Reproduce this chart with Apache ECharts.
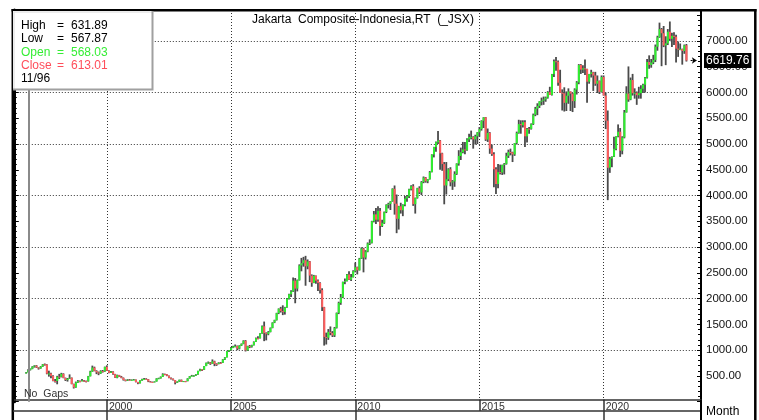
<!DOCTYPE html>
<html>
<head>
<meta charset="utf-8">
<title>Jakarta Composite-Indonesia,RT (_JSX)</title>
<script src="https://cdn.jsdelivr.net/npm/echarts@6/dist/echarts.min.js"></script>
<style>
  html, body { margin: 0; padding: 0; background: #fff; }
  #chart { width: 759px; height: 420px; }
</style>
</head>
<body>
<div id="chart"></div>
<script>
// monthly bars, the first one is 1996-10, the last one 2023-05
var firstYear = 1996, firstMonth = 10;

var opens = [
  552, 568.03, 613,
  637, 680, 700, 663, 645, 681, 725, 721, 545, 547, 500, 402,
  402, 486, 482, 541, 460, 420, 446, 466, 343, 276, 373, 400,
  398, 412, 400, 394, 495, 585, 662, 598, 569, 548, 594, 587,
  677, 600, 561, 583, 535, 465, 515, 485, 461, 421, 408, 428,
  416, 426, 429, 381, 358, 410, 438, 444, 436, 393, 383, 380,
  392, 452, 453, 482, 534, 531, 505, 464, 444, 419, 369, 390,
  425, 388, 399, 398, 451, 495, 506, 508, 530, 598, 626, 617,
  692, 753, 761, 736, 783, 733, 732, 757, 755, 820, 861, 978,
  1000, 1045, 1074, 1080, 1030, 1088, 1122, 1182, 995, 1079, 1066, 1097,
  1163, 1232, 1231, 1323, 1464, 1330, 1310, 1352, 1431, 1535, 1583, 1719,
  1806, 1757, 1741, 1831, 1999, 2084, 2139, 2349, 2194, 2359, 2644, 2688,
  2746, 2627, 2722, 2447, 2305, 2444, 2349, 2305, 2166, 1833, 1257, 1242,
  1355, 1333, 1286, 1434, 1723, 1917, 2027, 2323, 2342, 2468, 2368, 2416,
  2534, 2611, 2549, 2777, 2971, 2797, 2914, 3069, 3082, 3501, 3635, 3531,
  3704, 3409, 3470, 3679, 3820, 3837, 3889, 4131, 3842, 3549, 3791, 3715,
  3822, 3942, 3985, 4122, 4181, 3833, 3956, 4142, 4060, 4263, 4350, 4276,
  4317, 4454, 4796, 4941, 5034, 5069, 4819, 4610, 4195, 4316, 4511, 4256,
  4274, 4419, 4620, 4768, 4840, 4894, 4879, 5089, 5137, 5138, 5090, 5150,
  5227, 5289, 5450, 5519, 5086, 5216, 4911, 4803, 4510, 4224, 4455, 4447,
  4593, 4615, 4771, 4845, 4839, 4797, 5017, 5216, 5386, 5365, 5423, 5149,
  5297, 5294, 5387, 5568, 5685, 5738, 5830, 5841, 5864, 5901, 6006, 5952,
  6356, 6606, 6597, 6189, 5995, 5984, 5799, 5936, 6019, 5977, 5832, 6056,
  6195, 6533, 6443, 6469, 6455, 6209, 6359, 6391, 6329, 6169, 6228, 6012,
  6300, 5940, 5453, 4539, 4716, 4754, 4905, 5150, 5239, 4870, 5128, 5612,
  5979, 5862, 6242, 5986, 5996, 5947, 5986, 6070, 6150, 6287, 6591, 6534,
  6581, 6631, 6888, 7071, 7229, 7149, 6912, 6951, 7179, 7041, 7099, 7081,
  6851, 6839, 6843, 6805, 6916
];
var highs = [
  575, 631.89, 645,
  688, 707, 710, 668, 690, 730, 741, 728, 602, 560, 512, 440,
  502, 540, 560, 551, 468, 460, 530, 470, 350, 390, 420, 410,
  440, 420, 410, 500, 600, 700, 680, 610, 585, 610, 615, 680,
  705, 612, 597, 590, 540, 525, 520, 500, 470, 430, 437, 440,
  432, 440, 431, 385, 416, 446, 460, 455, 440, 402, 390, 395,
  455, 465, 490, 551, 545, 535, 510, 468, 448, 420, 395, 428,
  430, 402, 403, 455, 498, 520, 515, 535, 600, 640, 630, 692,
  760, 780, 770, 820, 795, 745, 765, 770, 825, 865, 980, 1005,
  1060, 1085, 1110, 1090, 1095, 1130, 1192, 1195, 1085, 1100, 1105, 1170,
  1245, 1270, 1330, 1480, 1555, 1345, 1370, 1440, 1540, 1590, 1725, 1810,
  1840, 1870, 1840, 2010, 2095, 2160, 2410, 2400, 2370, 2665, 2790, 2810,
  2830, 2760, 2730, 2470, 2460, 2450, 2370, 2320, 2200, 1840, 1340, 1410,
  1460, 1370, 1450, 1730, 1940, 2090, 2330, 2390, 2480, 2530, 2480, 2550,
  2700, 2620, 2790, 2995, 2985, 2940, 3090, 3150, 3510, 3700, 3760, 3790,
  3760, 3530, 3690, 3830, 3860, 3890, 4140, 4195, 4020, 3800, 3860, 3830,
  3990, 4010, 4130, 4200, 4220, 3960, 4150, 4180, 4280, 4370, 4360, 4320,
  4475, 4800, 4945, 5050, 5250, 5080, 4830, 4650, 4650, 4530, 4550, 4300,
  4470, 4625, 4880, 4930, 5040, 5040, 5110, 5200, 5260, 5150, 5180, 5230,
  5330, 5460, 5520, 5524, 5300, 5230, 4990, 4840, 4550, 4610, 4600, 4600,
  4630, 4830, 4890, 4910, 4850, 5020, 5240, 5470, 5460, 5460, 5460, 5310,
  5330, 5400, 5590, 5720, 5790, 5830, 5900, 5920, 5920, 6025, 6110, 6360,
  6640, 6690, 6620, 6440, 6060, 6100, 6020, 6080, 6020, 5990, 6080, 6220,
  6550, 6550, 6530, 6640, 6460, 6360, 6440, 6400, 6400, 6330, 6230, 6330,
  6330, 6000, 5650, 4750, 4760, 5140, 5150, 5380, 5310, 5150, 5660, 6120,
  6505, 6290, 6360, 6080, 6020, 6110, 6140, 6170, 6300, 6650, 6720, 6650,
  6730, 6930, 7100, 7355, 7250, 7290, 7090, 7230, 7377, 7160, 7170, 7120,
  6990, 6950, 6850, 6930, 6940
];
var lows = [
  545, 567.87, 606,
  630, 662, 655, 623, 640, 676, 700, 532, 486, 455, 395, 372,
  338, 440, 472, 455, 402, 390, 440, 338, 256, 270, 365, 378,
  395, 385, 375, 390, 490, 580, 590, 535, 515, 540, 565, 580,
  595, 550, 555, 525, 460, 455, 480, 455, 410, 395, 402, 410,
  408, 418, 375, 340, 355, 405, 428, 428, 380, 375, 370, 375,
  390, 440, 448, 480, 515, 495, 455, 430, 410, 337, 365, 385,
  385, 382, 380, 396, 448, 490, 485, 500, 525, 590, 595, 615,
  690, 735, 715, 735, 690, 695, 725, 735, 750, 810, 858, 965,
  990, 1040, 1055, 1000, 1015, 1080, 1115, 975, 985, 1040, 1050, 1090,
  1160, 1210, 1225, 1320, 1175, 1190, 1290, 1345, 1425, 1525, 1575, 1700,
  1730, 1680, 1690, 1825, 1985, 2030, 2130, 1910, 2140, 2350, 2530, 2620,
  2250, 2570, 2320, 2230, 2300, 2290, 2150, 2100, 1760, 1089, 1110, 1200,
  1290, 1255, 1256, 1420, 1700, 1880, 2010, 2280, 2330, 2360, 2340, 2410,
  2510, 2470, 2545, 2770, 2510, 2760, 2900, 3040, 3070, 3480, 3450, 3490,
  3220, 3390, 3450, 3660, 3750, 3720, 3880, 3630, 3270, 3340, 3650, 3600,
  3790, 3880, 3950, 4100, 3800, 3650, 3940, 4030, 4010, 4240, 4250, 4240,
  4310, 4450, 4740, 4850, 5000, 4500, 4480, 3830, 4020, 4280, 4180, 4110,
  4170, 4400, 4580, 4690, 4820, 4800, 4870, 5040, 5090, 4910, 4990, 5000,
  5140, 5260, 5310, 5060, 5040, 4810, 4770, 4160, 4030, 4140, 4410, 4400,
  4410, 4600, 4730, 4780, 4650, 4770, 4990, 5200, 5200, 5320, 4940, 5030,
  5200, 5280, 5370, 5540, 5560, 5700, 5750, 5760, 5820, 5880, 5950, 5940,
  6300, 6420, 6130, 5990, 5650, 5630, 5640, 5780, 5640, 5620, 5700, 5960,
  6160, 6360, 6380, 6340, 5800, 6170, 6290, 6030, 6130, 5990, 5970, 6000,
  5940, 5290, 3911, 4440, 4550, 4750, 4880, 5130, 4750, 4800, 5110, 5610,
  5820, 5850, 5940, 5880, 5760, 5880, 5880, 5990, 6000, 6270, 6460, 6480,
  6550, 6590, 6810, 7060, 6510, 6880, 6530, 6920, 7000, 6880, 6920, 6580,
  6690, 6820, 6540, 6750, 6600
];
var closes = [
  568.03, 613.01, 637.4,
  680, 700.2, 662.6, 645, 680.9, 724.6, 721.3, 545.3, 546.7, 500.4, 401.7, 401.7,
  485.9, 482.4, 541.4, 460.4, 420, 445.9, 465.7, 342.9, 276.2, 373.1, 399.7, 398,
  411.9, 400, 393.6, 495.2, 585.4, 662, 597.9, 569, 547.9, 593.9, 587.1, 676.9,
  600.3, 561.3, 583.3, 535.2, 465.4, 515.1, 484.9, 461.2, 421.3, 408.1, 427.9, 416.3,
  426.1, 428.9, 381.1, 358.2, 410, 437.6, 444.1, 435.5, 392.5, 383.1, 380.4, 392,
  451.6, 453.2, 481.8, 534.1, 530.8, 505, 463.7, 443.7, 419.3, 369.4, 390.4, 424.9,
  388.4, 399.2, 398, 450.9, 494.8, 505.5, 507.9, 529.7, 597.7, 625.5, 617.1, 691.9,
  752.9, 761.1, 735.7, 783.4, 732.5, 732.4, 756.9, 754.7, 820.1, 860.5, 977.8, 1000.2,
  1045.4, 1073.8, 1080.2, 1029.6, 1088.2, 1122.4, 1182.3, 994.8, 1079.3, 1066.2, 1096.6, 1162.6,
  1232.3, 1230.7, 1322.9, 1464.4, 1330, 1310.3, 1351.7, 1431.3, 1534.6, 1582.6, 1718.9, 1805.5,
  1757.3, 1740.9, 1830.9, 1999.2, 2084.3, 2139.3, 2348.7, 2194.3, 2359.2, 2643.5, 2688.3, 2745.8,
  2627.3, 2721.9, 2447.3, 2304.5, 2444.4, 2349.1, 2304.5, 2165.9, 1832.5, 1256.7, 1241.5, 1355.4,
  1332.7, 1285.5, 1434.1, 1722.8, 1916.8, 2026.8, 2323.2, 2341.5, 2467.6, 2367.7, 2415.8, 2534.4,
  2610.8, 2549, 2777.3, 2971.3, 2796.9, 2913.7, 3069.3, 3081.9, 3501.3, 3635.3, 3531.2, 3703.5,
  3409.2, 3470.4, 3678.7, 3819.6, 3836.9, 3888.6, 4130.8, 3841.7, 3549, 3790.8, 3715.1, 3822,
  3941.7, 3985.2, 4121.6, 4180.7, 3832.8, 3955.6, 4142.3, 4060.3, 4262.6, 4350.3, 4276.1, 4316.7,
  4453.7, 4795.8, 4941, 5034.1, 5068.6, 4818.9, 4610.4, 4195.1, 4316.2, 4510.6, 4256.4, 4274.2,
  4418.8, 4620.2, 4768.3, 4840.1, 4893.9, 4878.6, 5088.8, 5136.9, 5137.6, 5089.5, 5149.9, 5227,
  5289.4, 5450.3, 5518.7, 5086.4, 5216.4, 4910.7, 4802.5, 4509.6, 4223.9, 4455.2, 4446.5, 4593,
  4615.2, 4771, 4845.4, 4838.6, 4796.9, 5016.6, 5216, 5386.1, 5364.8, 5422.5, 5148.9, 5296.7,
  5294.1, 5386.7, 5568.1, 5685.3, 5738.2, 5829.7, 5840.9, 5864.1, 5900.9, 6005.8, 5952.1, 6355.7,
  6605.6, 6597.2, 6189, 5994.6, 5983.6, 5799.2, 5936.4, 6018.5, 5976.6, 5831.7, 6056.1, 6194.5,
  6533, 6443.3, 6468.8, 6455.4, 6209.1, 6358.6, 6390.5, 6328.5, 6169.1, 6228.3, 6011.8, 6300,
  5940, 5452.7, 4538.9, 4716.4, 4753.6, 4905.4, 5149.6, 5238.5, 4870, 5128.2, 5612.4, 5979.1,
  5862.4, 6241.8, 5985.5, 5995.6, 5947.5, 5985.5, 6070, 6150.3, 6286.9, 6591.3, 6533.9, 6581.5,
  6631.2, 6888.2, 7071.4, 7228.9, 7149, 6911.6, 6951.1, 7178.6, 7040.8, 7098.9, 7081.3, 6850.6,
  6839.3, 6843.2, 6805.3, 6915.7, 6619.76
];

var padBefore = 6, padAfter = 7;   // empty months either side of the bars
var cursorBar = 1;                 // 11/96, shown in the box
var yMax = 7600, yLabelTop = 7000;

var font = 'Liberation Sans, Arial, sans-serif';
var upColor = '#2ef02e', downColor = '#ff5c5c', wickColor = '#4a4a4a';

var months = [];
for (var i = -padBefore; i < closes.length + padAfter; i++) {
    var t = firstYear * 12 + firstMonth - 1 + i;
    months.push(Math.floor(t / 12) + '-' + String(t % 12 + 1).padStart(2, '0'));
}

var bars = closes.map(function (c, i) {
    return [i + padBefore, opens[i], c, lows[i], highs[i]];
});

function everyFive(idx, val) {
    return val.slice(5) === '01' && (+val.slice(0, 4)) % 5 === 0;
}
function everyTen(idx, val) {
    return val.slice(5) === '01' && (+val.slice(0, 4)) % 10 === 0;
}

var last = closes.length - 1;
var lastClose = closes[last];
var cm = months[cursorBar + padBefore];

var chart = echarts.init(document.getElementById('chart'));

var rows = [
    ['High', highs[cursorBar], '#000'],
    ['Low', lows[cursorBar], '#000'],
    ['Open', opens[cursorBar], '#35ee35'],
    ['Close', closes[cursorBar], '#ff4d5a']
];
var boxTexts = [];
rows.forEach(function (r, k) {
    var y = 25.5 + k * 13.4;
    boxTexts.push({ type: 'text', x: 21, y: y, style: { text: r[0], fill: r[2], font: '12px ' + font, textVerticalAlign: 'middle' } });
    boxTexts.push({ type: 'text', x: 57, y: y, style: { text: '=', fill: r[2], font: '12px ' + font, textVerticalAlign: 'middle' } });
    boxTexts.push({ type: 'text', x: 71, y: y, style: { text: r[1].toFixed(2), fill: r[2], font: '12px ' + font, textVerticalAlign: 'middle' } });
});
boxTexts.push({ type: 'text', x: 21, y: 79, style: { text: cm.slice(5) + '/' + cm.slice(2, 4), fill: '#000', font: '12px ' + font, textVerticalAlign: 'middle' } });

var option = {
    animation: false,
    grid: { left: 13.8, right: 58, top: 10, bottom: 18.3 },
    xAxis: [{
        type: 'category',
        data: months,
        boundaryGap: false,
        position: 'bottom',
        offset: -2.3,
        axisLine: { lineStyle: { color: '#333', width: 1.5 } },
        axisTick: { interval: everyFive, length: 11.6, lineStyle: { color: '#333', width: 1.5 } },
        axisLabel: {
            interval: everyFive, formatter: function (v) { return v.slice(0, 4); },
            align: 'left', margin: 2, padding: [0, 0, 0, 2],
            fontSize: 10.5, color: '#333', fontFamily: font
        },
        splitLine: { show: true, interval: everyFive, lineStyle: { color: '#333', type: [1, 2] } }
    }, {
        type: 'category',
        data: months,
        boundaryGap: false,
        position: 'bottom',
        offset: -2.3,
        axisLine: { show: false },
        axisTick: { interval: everyTen, length: 21, lineStyle: { color: '#333', width: 1.5 } },
        axisLabel: { show: false },
        splitLine: { show: false }
    }],
    yAxis: [{
        type: 'value', position: 'left', min: 0, max: yMax, interval: 500,
        axisLine: { show: true, lineStyle: { color: '#000', width: 3 } },
        axisTick: { show: true, inside: true, length: 5, lineStyle: { color: '#000' } },
        minorTick: { show: true, splitNumber: 5, length: 3, lineStyle: { color: '#000' } },
        axisLabel: { show: false },
        splitLine: { show: false }
    }, {
        type: 'value', position: 'right', min: 0, max: yMax, interval: 500,
        axisLine: { show: true, lineStyle: { color: '#000', width: 2 } },
        axisTick: { show: true, inside: true, length: 4, lineStyle: { color: '#000' } },
        minorTick: { show: true, splitNumber: 5, length: 3, lineStyle: { color: '#000' } },
        axisLabel: {
            margin: 5, fontSize: 11.5, color: '#111', fontFamily: font,
            formatter: function (v) { return (v === 0 || v > yLabelTop) ? '' : v.toFixed(2); }
        },
        splitLine: { show: false }
    }, {
        type: 'value', position: 'left', min: 0, max: yMax, interval: 1000,
        axisLine: { show: false }, axisTick: { show: false }, axisLabel: { show: false },
        splitLine: { show: true, showMinLine: false, showMaxLine: false, lineStyle: { color: '#333', type: [1, 2] } }
    }],
    series: [{
        type: 'custom',
        xAxisIndex: 0,
        yAxisIndex: 1,
        data: bars,
        encode: { x: 0, y: [1, 2, 3, 4] },
        renderItem: function (params, api) {
            var x = api.value(0);
            var o = api.value(1), c = api.value(2), l = api.value(3), h = api.value(4);
            var pH = api.coord([x, h]), pL = api.coord([x, l]);
            var pO = api.coord([x, o]), pC = api.coord([x, c]);
            var top = Math.min(pO[1], pC[1]);
            return {
                type: 'group',
                children: [{
                    type: 'rect',
                    shape: { x: pH[0] - 1, y: pH[1], width: 1.8, height: pL[1] - pH[1] },
                    style: { fill: wickColor }
                }, {
                    type: 'rect',
                    shape: { x: pH[0] - 1, y: top, width: 2, height: Math.max(Math.abs(pO[1] - pC[1]), 1) },
                    style: { fill: c >= o ? upColor : downColor }
                }]
            };
        },
        markLine: {
            silent: true,
            symbol: ['none', 'none'],
            data: [
                [{ xAxis: cm, yAxis: 0, lineStyle: { color: '#8a8a8a', width: 2, type: 'solid' }, label: { show: false } },
                 { xAxis: cm, yAxis: yMax }],
                [{ coord: [months[last + padBefore + 2], lastClose], lineStyle: { color: '#000', width: 1, type: [2, 1] }, label: { show: false } },
                 { coord: [months[last + padBefore + 5], lastClose], symbol: 'arrow', symbolSize: 5 }],
                {
                    yAxis: lastClose,
                    lineStyle: { color: 'rgba(0,0,0,0)', width: 1 },
                    label: {
                        show: true, position: 'end', distance: 3,
                        formatter: function () { return lastClose.toFixed(2); },
                        color: '#fff', backgroundColor: '#000', padding: [2, 2, 1, 2],
                        fontSize: 12, fontFamily: font
                    }
                }
            ]
        }
    }],
    graphic: [
        // outer frame
        { type: 'line', z: 100, shape: { x1: 11.5, y1: 10.3, x2: 756.5, y2: 10.3 }, style: { stroke: '#000', lineWidth: 2.5 } },
        { type: 'line', z: 100, shape: { x1: 755.3, y1: 9, x2: 755.3, y2: 420 }, style: { stroke: '#000', lineWidth: 2.5 } },
        { type: 'line', z: 100, shape: { x1: 12.8, y1: 9, x2: 12.8, y2: 420 }, style: { stroke: '#000', lineWidth: 2.5 } },
        // bottom strip of the date axis
        { type: 'line', z: 100, shape: { x1: 13, y1: 411, x2: 701, y2: 411 }, style: { stroke: '#333', lineWidth: 1.5 } },
        { type: 'line', z: 100, shape: { x1: 701, y1: 400, x2: 701, y2: 420 }, style: { stroke: '#000', lineWidth: 2 } },
        { type: 'text', z: 100, x: 706, y: 411.5, style: { text: 'Month', fill: '#000', font: '12px ' + font, textVerticalAlign: 'middle' } },
        { type: 'text', z: 100, x: 252, y: 19.5, style: { text: 'Jakarta  Composite-Indonesia,RT  (_JSX)', fill: '#000', font: '12px ' + font, textVerticalAlign: 'middle' } },
        { type: 'text', z: 100, x: 24, y: 394, style: { text: 'No  Gaps', fill: '#333', font: '10.5px ' + font, textVerticalAlign: 'middle' } },
        // value box
        {
            type: 'group', z: 110, x: 0, y: 0,
            children: [
                { type: 'rect', z: 110, shape: { x: 13, y: 11, width: 140, height: 79 }, style: { fill: '#fff' } },
                { type: 'polyline', z: 111, shape: { points: [[14, 89], [14, 12], [152, 12]] }, style: { stroke: '#e6e6e6', lineWidth: 1.5, fill: null } },
                { type: 'polyline', z: 111, shape: { points: [[152.5, 11], [152.5, 89.5], [13, 89.5]] }, style: { stroke: '#a0a0a0', lineWidth: 2, fill: null } }
            ].concat(boxTexts.map(function (t) { t.z = 112; return t; }))
        }
    ]
};

chart.setOption(option);
</script>
</body>
</html>
